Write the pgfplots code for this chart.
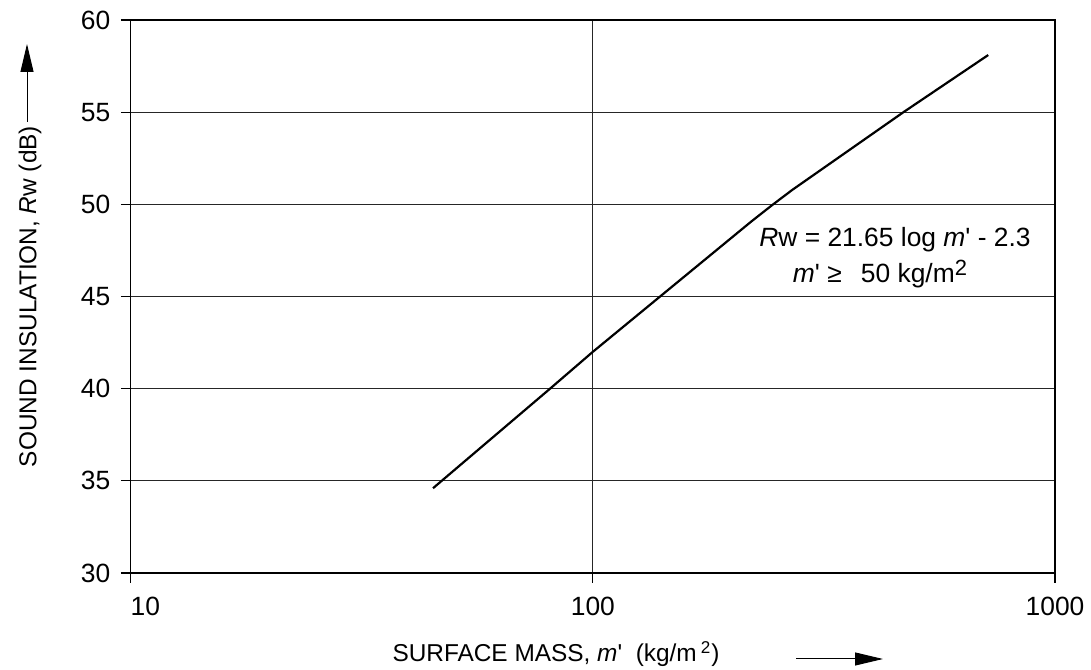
\documentclass[border=0pt]{standalone}
\usepackage{fontspec}
\setmainfont{Liberation Sans}
\usepackage{pgfplots}
\pgfplotsset{compat=1.18}
\usetikzlibrary{arrows.meta}

\newcommand\bigtxt{\fontsize{13.2}{15.8}\selectfont}

\begin{document}
\fontsize{12.2}{14.6}\selectfont
\begin{tikzpicture}
\begin{semilogxaxis}[
  scale only axis,
  width=462.15pt, height=276.5pt,
  xmin=10, xmax=1000, ymin=30, ymax=60,
  xtick={10,100,1000},
  xticklabels={\rlap{10},100,1000},
  xminorticks=false,
  ytick={30,35,...,60},
  tick pos=left,
  tick align=outside,
  major tick length=5pt,
  tick style={black, line width=0.6pt},
  grid=major,
  major grid style={black!85, line width=0.55pt},
  axis line style={black, line width=0.7pt},
  /pgf/number format/assume math mode=true,
  tick label style={font=\bigtxt},
  yticklabel style={xshift=-1pt},
  xticklabel style={yshift=-3pt},
  clip=false,
]
\addplot[black, line width=1.1pt, line join=round] coordinates {
  (45.1,34.6) (80.8,40) (100,42.0) (139.8,45) (220,49.06) (243.5,49.93) (270,50.78) (470,55) (717,58.1)
};

% equation
\node[anchor=base, font=\bigtxt] at ([shift={(382.15pt,163pt)}]rel axis cs:0,0)
  {\textit{R}w = 21.65 log \textit{m}\textquotesingle{} - 2.3};
\node[anchor=base, font=\bigtxt] at ([shift={(374.65pt,145pt)}]rel axis cs:0,0)
  {\textit{m}\textquotesingle{} ≥\ \ \,50 kg/m\raisebox{0.55ex}{\fontsize{11}{12}\selectfont 2}};

% axis labels with arrows
\node[anchor=base] at ([shift={(212.65pt,-44.5pt)}]rel axis cs:0,0)
  {SURFACE MASS, \textit{m}\textquotesingle\ \ (kg/m\,\textsuperscript{2})};
\draw[line width=0.5pt, -{Triangle[length=14pt,width=6.5pt]}]
  ([shift={(332.65pt,-43pt)}]rel axis cs:0,0) -- ([shift={(376.15pt,-43pt)}]rel axis cs:0,0);

\node[rotate=90, anchor=center] at ([xshift=-50.35pt]rel axis cs:0,0.5)
  {SOUND INSULATION, \textit{R}w (dB)};
\draw[line width=0.5pt, -{Triangle[length=14pt,width=6.5pt]}]
  ([shift={(-51.85pt,225.5pt)}]rel axis cs:0,0) -- ([shift={(-51.85pt,264.5pt)}]rel axis cs:0,0);
\end{semilogxaxis}
\pgfresetboundingbox
\path ([shift={(-65.35pt,-48.5pt)}]current axis.south west) rectangle ([shift={(18pt,10pt)}]current axis.north east);
\end{tikzpicture}
\end{document}
